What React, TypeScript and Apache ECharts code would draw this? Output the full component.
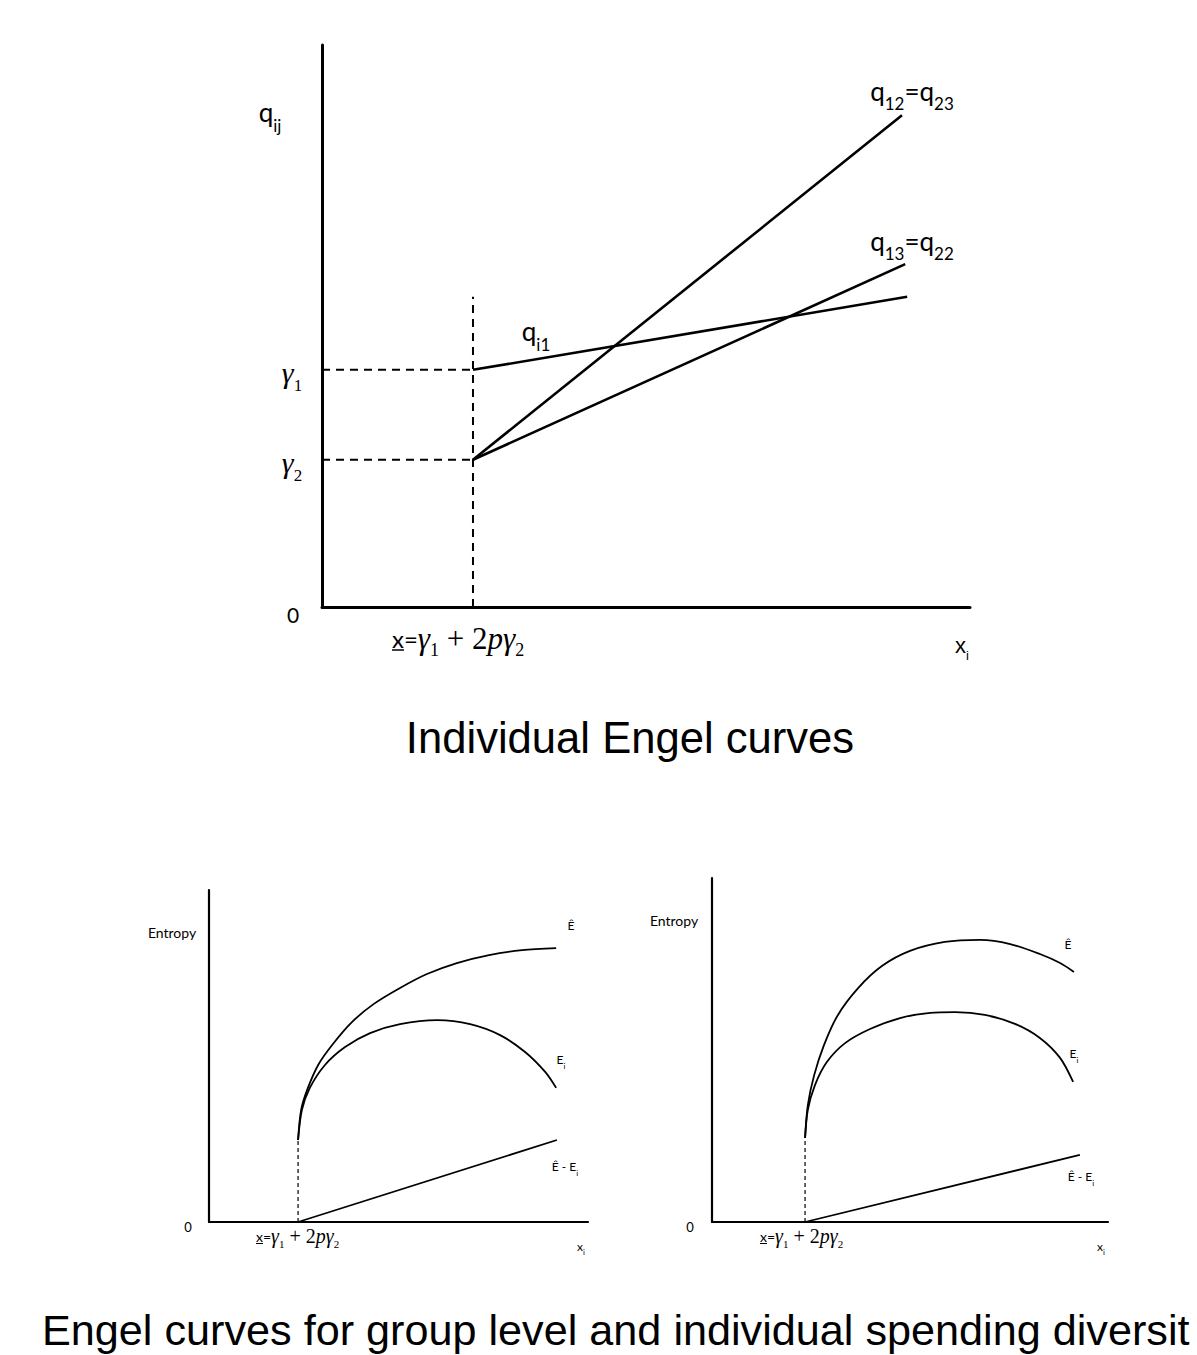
import React, { useEffect, useRef } from "react";
import * as echarts from "echarts";

const W = 1197;
const H = 1355;

// ---------- Top chart: Individual Engel curves (units 0-100 on both axes) ----------
const topXBar = 23.3;
const topDividerTop = 55.2;
const topGamma1 = 42.2;
const topGamma2 = 26.2;
const qi1Line: number[][] = [[23.3, 42.2], [90.3, 55.2]];
const q12Line: number[][] = [[23.3, 26.2], [89.5, 87.5]];
const q13Line: number[][] = [[23.3, 26.2], [90.0, 61.0]];

// ---------- Bottom-left chart (units 0-100) ----------
const blXBar = 23.5;
const blStart = 24.7;
const blEhat: number[][] = [
  [23.5, 24.7], [24.3, 33.7], [25.9, 39.8], [28.8, 47.3], [32.7, 53.6], [37.7, 60.2], [43.5, 65.7],
  [50.4, 70.5], [57.5, 74.7], [65.4, 78.0], [73.9, 80.4], [82.6, 81.9], [91.6, 82.5],
];
const blEi: number[][] = [
  [23.5, 24.7], [24.5, 33.7], [26.6, 40.4], [30.6, 47.3], [35.9, 52.7], [42.5, 56.9], [50.4, 59.6],
  [60.2, 60.8], [68.9, 59.6], [76.8, 56.3], [83.4, 51.2], [88.7, 45.2], [91.6, 40.4],
];
const blDiff: number[][] = [[23.5, 0], [91.8, 24.7]];

// ---------- Bottom-right chart (units 0-100) ----------
const brXBar = 23.5;
const brStart = 24.4;
const brEhat: number[][] = [
  [23.5, 24.4], [24.2, 34.0], [25.8, 42.7], [28.3, 51.5], [31.8, 60.2], [36.9, 68.0], [42.9, 74.4],
  [50.0, 78.8], [58.8, 81.4], [67.7, 82.0], [75.3, 80.8], [82.8, 77.9], [87.9, 75.3], [91.4, 72.7],
];
const brEi: number[][] = [
  [23.5, 24.4], [24.2, 32.6], [26.0, 39.8], [29.0, 46.5], [33.6, 52.0], [39.9, 56.1], [47.5, 59.3],
  [55.1, 60.8], [61.4, 61.0], [68.9, 60.2], [76.5, 57.6], [82.8, 53.5], [87.9, 47.7], [91.2, 40.7],
];
const brDiff: number[][] = [[23.5, 0], [92.9, 19.5]];

const titleTop = "Individual Engel curves";
// the reference shows the caption cut at the right edge of the picture
const titleBottom = "Engel curves for group level and individual spending diversit";

const SANS = "Lato, 'Open Sans', sans-serif";
const SERIF = "'Liberation Serif', 'DejaVu Serif', serif";
const ARIAL = "'Liberation Sans', Arial, sans-serif";

function lineSeries(grid: number, data: number[][], width: number, dash?: number[], smooth?: number) {
  return {
    type: "line",
    xAxisIndex: grid,
    yAxisIndex: grid,
    data,
    showSymbol: false,
    symbol: "none",
    smooth: smooth || false,
    clip: false,
    silent: true,
    lineStyle: { color: "#000", width, type: dash ? dash : "solid", cap: "butt" },
  };
}

function axisPair(grid: number, lw: number) {
  const common = {
    type: "value",
    min: 0,
    max: 100,
    gridIndex: grid,
    axisLabel: { show: false },
    axisTick: { show: false },
    splitLine: { show: false },
    axisLine: { show: true, onZero: false, lineStyle: { color: "#000", width: lw } },
  };
  return { x: { ...common }, y: { ...common } };
}

function txt(text: string, x: number, y: number, size: number, align = "center", family = SANS) {
  return {
    type: "text",
    x,
    y,
    silent: true,
    style: {
      text,
      fill: "#000",
      fontFamily: family,
      fontSize: size,
      textAlign: align,
      textVerticalAlign: "middle",
    },
  };
}

// rich text with subscripts: sans size m, sub size s, line height L, serif size gm
function richTxt(text: string, x: number, y: number, m: number, s: number, L: number, align = "center", gm?: number, family = SANS) {
  const g = gm || m;
  return {
    type: "text",
    x,
    y,
    silent: true,
    style: {
      text,
      fill: "#000",
      textAlign: align,
      textVerticalAlign: "middle",
      rich: {
        a: { fontFamily: family, fontSize: m, lineHeight: L, verticalAlign: "middle", fill: "#000" },
        b: { fontFamily: family, fontSize: s, lineHeight: L, verticalAlign: "bottom", fill: "#000" },
        g: { fontFamily: SERIF, fontStyle: "italic", fontSize: g, lineHeight: L, verticalAlign: "middle", fill: "#000" },
        r: { fontFamily: SERIF, fontSize: g, lineHeight: L, verticalAlign: "middle", fill: "#000" },
        s: { fontFamily: SERIF, fontSize: s, lineHeight: L, verticalAlign: "bottom", fill: "#000" },
      },
    },
  };
}

function underline(x1: number, x2: number, y: number, w: number) {
  return {
    type: "line",
    silent: true,
    shape: { x1, y1: y, x2, y2: y },
    style: { stroke: "#000", lineWidth: w },
  };
}

const xBarLabel = "{a|x}{a|=}{g|γ}{s|1}{r| + 2}{g|pγ}{s|2}";

export default function App() {
  const ref = useRef<HTMLDivElement>(null);
  useEffect(() => {
    if (!ref.current) return;
    const chart = echarts.init(ref.current, undefined, { renderer: "svg" });
    const a0 = axisPair(0, 3);
    const a1 = axisPair(1, 2.2);
    const a2 = axisPair(2, 2.2);
    const option: any = {
      animation: false,
      backgroundColor: "#fff",
      grid: [
        { left: 322, top: 45, width: 648, height: 562 },
        { left: 209, top: 890, width: 379, height: 332 },
        { left: 712, top: 878, width: 396, height: 344 },
      ],
      xAxis: [a0.x, a1.x, a2.x],
      yAxis: [a0.y, a1.y, a2.y],
      series: [
        lineSeries(0, [[topXBar, 0], [topXBar, topDividerTop]], 2, [8, 6]),
        lineSeries(0, [[0, topGamma1], [topXBar, topGamma1]], 2, [8, 6]),
        lineSeries(0, [[0, topGamma2], [topXBar, topGamma2]], 2, [8, 6]),
        lineSeries(0, qi1Line, 2.6),
        lineSeries(0, q12Line, 2.6),
        lineSeries(0, q13Line, 2.6),

        lineSeries(1, [[blXBar, 0], [blXBar, blStart]], 1.2, [4, 3]),
        lineSeries(1, blEhat, 1.8, undefined, 0.3),
        lineSeries(1, blEi, 1.8, undefined, 0.3),
        lineSeries(1, blDiff, 1.8),

        lineSeries(2, [[brXBar, 0], [brXBar, brStart]], 1.2, [4, 3]),
        lineSeries(2, brEhat, 1.8, undefined, 0.3),
        lineSeries(2, brEi, 1.8, undefined, 0.3),
        lineSeries(2, brDiff, 1.8),
      ],
      graphic: [
        // top chart labels
        richTxt("{a|q}{b|ij}", 270, 112, 26, 17, 44),
        richTxt("{g|γ}{s|1}", 292, 372, 26, 17, 44, "center", 30),
        richTxt("{g|γ}{s|2}", 292, 462, 26, 17, 44, "center", 30),
        txt("0", 293, 614, 21),
        richTxt(xBarLabel, 392, 638, 24, 18, 42, "left", 31),
        underline(392, 404, 650, 1.5),
        richTxt("{a|x}{b|i}", 962, 645, 22, 13, 34, "center", undefined, ARIAL),
        richTxt("{a|q}{b|i1}", 536, 331, 26, 17, 44),
        richTxt("{a|q}{b|12}{a|=q}{b|23}", 912, 91, 26, 17, 42),
        richTxt("{a|q}{b|13}{a|=q}{b|22}", 912, 241, 26, 17, 42),
        txt(titleTop, 630, 738, 43.6, "center", ARIAL),

        // bottom-left labels
        txt("Entropy", 172, 932, 14),
        txt("0", 188, 1227, 13),
        richTxt(xBarLabel, 256, 1236, 14, 11, 26, "left", 20),
        underline(256, 263, 1243.5, 1),
        richTxt("{a|x}{b|i}", 581, 1246, 12, 8, 20),
        txt("Ê", 571, 925, 12),
        richTxt("{a|E}{b|i}", 561, 1059, 12, 8, 22),
        richTxt("{a|Ê - E}{b|i}", 565, 1166, 12, 8, 22),

        // bottom-right labels
        txt("Entropy", 674, 920, 14),
        txt("0", 690, 1227, 13),
        richTxt(xBarLabel, 760, 1236, 14, 11, 26, "left", 20),
        underline(760, 767, 1243.5, 1),
        richTxt("{a|x}{b|i}", 1101, 1246, 12, 8, 20),
        txt("Ê", 1068, 944, 12),
        richTxt("{a|E}{b|i}", 1074, 1053, 12, 8, 22),
        richTxt("{a|Ê - E}{b|i}", 1081, 1176, 12, 8, 22),

        txt(titleBottom, 42, 1330, 43.2, "left", ARIAL),
      ],
    };
    chart.setOption(option);
    return () => chart.dispose();
  }, []);
  return (
    <div
      ref={ref}
      style={{ position: "absolute", left: 0, top: 0, width: W, height: H, background: "#fff", overflow: "hidden" }}
    />
  );
}
